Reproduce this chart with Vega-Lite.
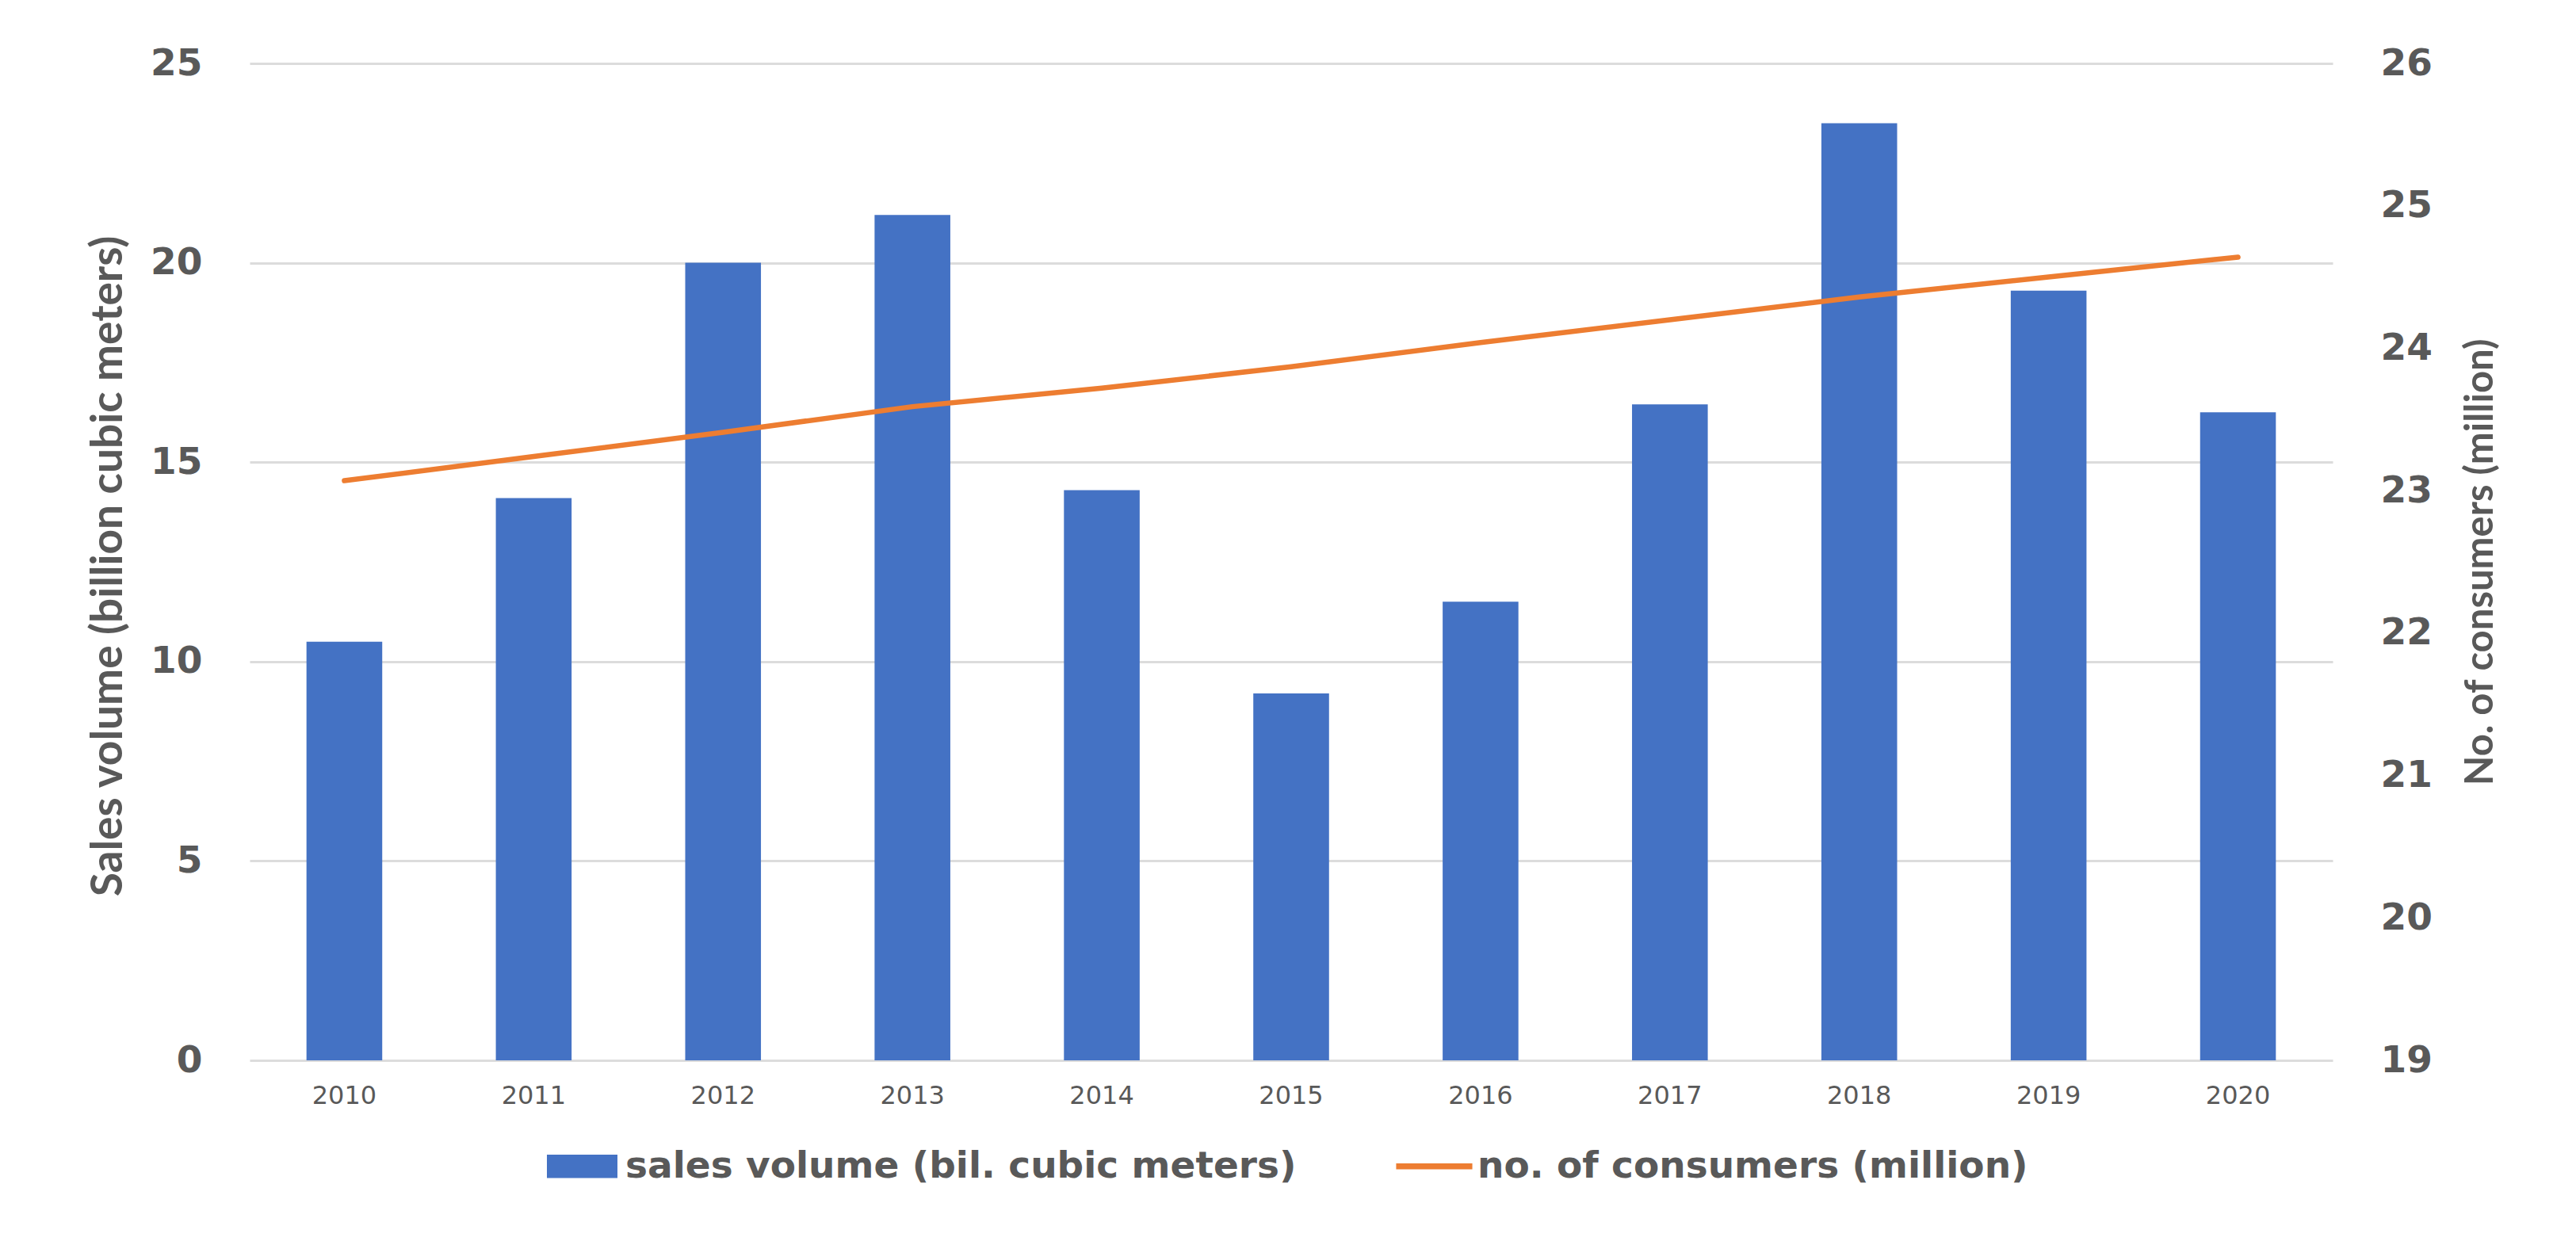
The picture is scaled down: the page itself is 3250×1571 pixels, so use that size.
{
  "$schema": "https://vega.github.io/schema/vega-lite/v6.json",
  "width": 2628,
  "height": 1258,
  "autosize": {"type": "none"},
  "padding": {"left": 315, "top": 80, "right": 307, "bottom": 233},
  "background": "white",
  "config": {"view": {"stroke": null}, "font": "DejaVu Sans"},
  "data": {
    "values": [
      {"year": "2010", "sales": 10.5, "consumers": 23.07},
      {"year": "2011", "sales": 14.1, "consumers": 23.24},
      {"year": "2012", "sales": 20.0, "consumers": 23.41},
      {"year": "2013", "sales": 21.2, "consumers": 23.59},
      {"year": "2014", "sales": 14.3, "consumers": 23.72},
      {"year": "2015", "sales": 9.2, "consumers": 23.87},
      {"year": "2016", "sales": 11.5, "consumers": 24.04},
      {"year": "2017", "sales": 16.45, "consumers": 24.2},
      {"year": "2018", "sales": 23.5, "consumers": 24.36},
      {"year": "2019", "sales": 19.3, "consumers": 24.5},
      {"year": "2020", "sales": 16.25, "consumers": 24.64}
    ]
  },
  "layer": [
    {
      "mark": {"type": "bar"},
      "encoding": {
        "x": {
          "field": "year",
          "type": "ordinal",
          "scale": {"paddingInner": 0.6, "paddingOuter": 0.3},
          "axis": {
            "title": null,
            "labelAngle": 0,
            "labelFont": "DejaVu Sans",
            "labelFontSize": 32,
            "labelColor": "#595959",
            "labelPadding": 29,
            "ticks": false,
            "domain": false,
            "grid": false
          }
        },
        "y": {
          "field": "sales",
          "type": "quantitative",
          "scale": {"domain": [0, 25]},
          "axis": {
            "orient": "left",
            "title": "Sales volume (billion cubic meters)",
            "values": [0, 5, 10, 15, 20, 25],
            "grid": true,
            "gridColor": "#DCDCDC",
            "gridWidth": 3,
            "ticks": false,
            "domain": false,
            "labelFont": "DejaVu Sans",
            "labelFontWeight": "bold",
            "labelFontSize": 47,
            "labelColor": "#595959",
            "labelPadding": 60,
            "titleFont": "Lato",
            "titleFontWeight": "bold",
            "titleFontSize": 55,
            "titleColor": "#595959",
            "titleAngle": 270,
            "titleX": -179,
            "titleY": 634,
            "titleAlign": "center",
            "titleBaseline": "middle"
          }
        },
        "color": {
          "datum": "sales volume (bil. cubic meters)",
          "type": "nominal",
          "scale": {
            "domain": ["sales volume (bil. cubic meters)", "no. of consumers (million)"],
            "range": ["#4472C4", "#ED7D31"]
          },
          "legend": {
            "orient": "none",
            "legendX": 375,
            "legendY": 1347,
            "direction": "horizontal",
            "title": null,
            "padding": 0,
            "labelFont": "DejaVu Sans",
            "labelFontWeight": "bold",
            "labelFontSize": 47,
            "labelColor": "#595959",
            "labelLimit": 2000,
            "labelOffset": 10,
            "columnPadding": 125,
            "symbolSize": 7921,
            "symbolType": "M-1,-0.33H1V0.33H-1Z",
            "symbolStrokeWidth": 0,
            "symbolOpacity": 1,
            "encode": {
              "symbols": {
                "update": {
                  "shape": {"signal": "datum.value === 'no. of consumers (million)' ? 'M-1.08,-0.085H1.08V0.085H-1.08Z' : 'M-1,-0.33H1V0.33H-1Z'"},
                  "fill": {"scale": "color", "field": "value"},
                  "strokeWidth": {"value": 0},
                  "opacity": {"value": 1}
                }
              }
            }
          }
        }
      }
    },
    {
      "mark": {"type": "line", "strokeWidth": 6.5, "strokeCap": "round", "strokeJoin": "round"},
      "encoding": {
        "x": {"field": "year", "type": "ordinal"},
        "y": {
          "field": "consumers",
          "type": "quantitative",
          "scale": {"domain": [19, 26]},
          "axis": {
            "orient": "right",
            "title": "No. of consumers (million)",
            "values": [19, 20, 21, 22, 23, 24, 25, 26],
            "grid": false,
            "ticks": false,
            "domain": false,
            "labelFont": "DejaVu Sans",
            "labelFontWeight": "bold",
            "labelFontSize": 47,
            "labelColor": "#595959",
            "labelPadding": 60,
            "titleFont": "Lato",
            "titleFontWeight": "bold",
            "titleFontSize": 49,
            "titleColor": "#595959",
            "titleAngle": 270,
            "titleX": 186,
            "titleY": 629,
            "titleAlign": "center",
            "titleBaseline": "middle"
          }
        },
        "color": {"datum": "no. of consumers (million)", "type": "nominal"}
      }
    }
  ],
  "resolve": {"scale": {"y": "independent"}}
}
